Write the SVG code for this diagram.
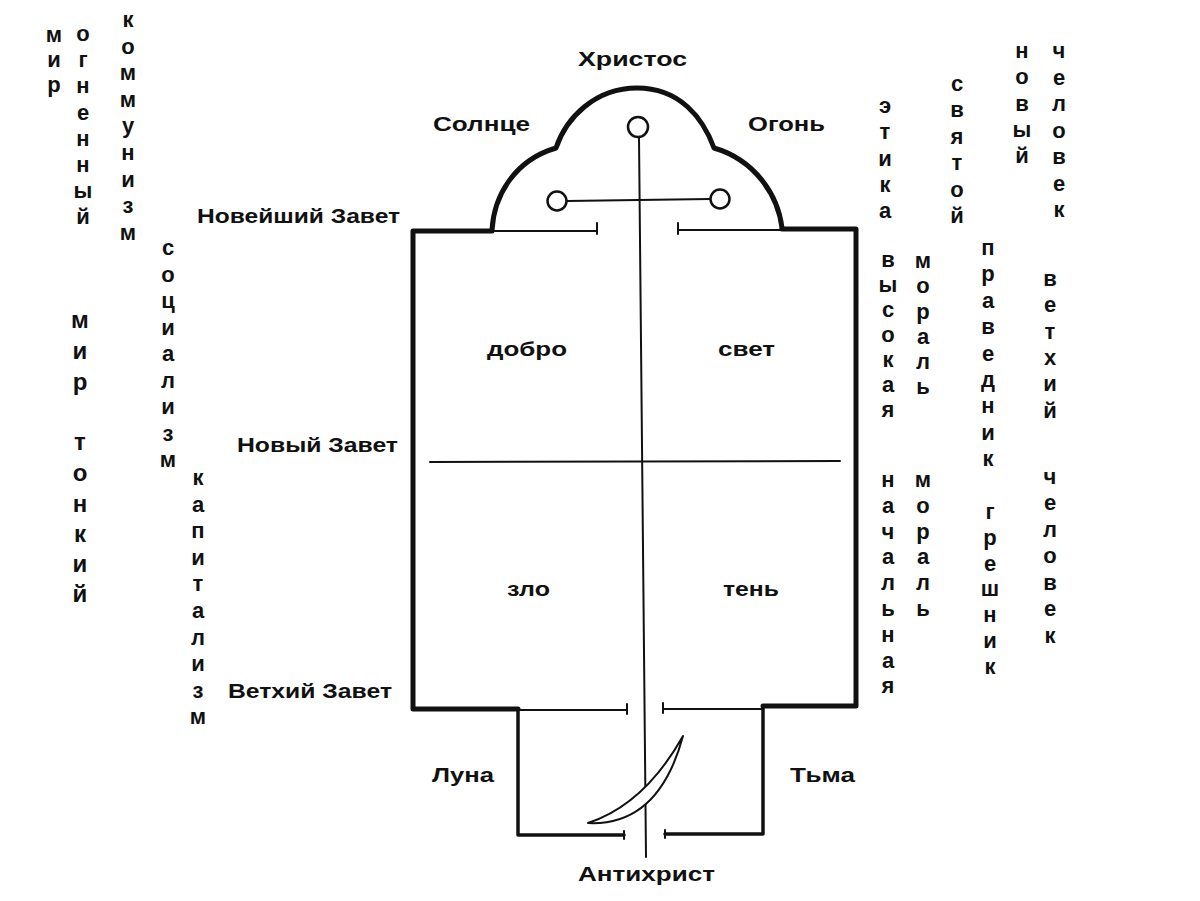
<svg xmlns="http://www.w3.org/2000/svg" width="1200" height="901" viewBox="0 0 1200 901">
<style>
text{font-family:"Liberation Sans",Arial,"Noto Sans",sans-serif;fill:#111;font-weight:bold}
.l{font-size:21px}
.v{font-size:22px;text-anchor:middle}
.vb{font-size:24px;text-anchor:middle}
.thick{fill:none;stroke:#111;stroke-width:5;stroke-linejoin:round;stroke-linecap:round}
.thin{fill:none;stroke:#111;stroke-width:2;stroke-linecap:round}
.mid{fill:none;stroke:#111;stroke-width:3.5;stroke-linejoin:round;stroke-linecap:round}
.circ{fill:#fff;stroke:#111;stroke-width:2.5}
</style>
<rect width="1200" height="901" fill="#fff"/>

<g id="temple">
<path class="thick" d="M492,230 C494,195 515,160 556,148 C566,118 595,88 637,88 C680,88 703,118 714,148 C755,160 778,195 782,228"/>
<path class="thick" d="M492,231 L413,231 L413,709 L518,709"/>
<path class="thick" d="M782,229 L856,229 L856,706 L763,706"/>
<path class="mid" d="M518,709 L518,835 L624,835"/>
<path class="mid" d="M763,706 L763,834 L665,834"/>
</g>

<g id="connectors">
<path class="thin" d="M492,231 L597,231 M597,223 L597,234"/>
<path class="thin" d="M678,230 L782,230 M678,223 L678,234"/>
<path class="thin" d="M518,710 L627,710 M627,704 L627,714"/>
<path class="thin" d="M663,709 L763,709 M663,703 L663,713"/>
<path class="thin" d="M624,831 L624,839 M665,830 L665,838"/>
<path class="thin" d="M430,462 L840,461"/>
<path class="thin" d="M639,137 L646,857"/>
<path class="thin" d="M567,201 L710,199"/>
</g>

<g id="circles">
<circle class="circ" cx="638" cy="127" r="10"/>
<circle class="circ" cx="557" cy="201" r="9.5"/>
<circle class="circ" cx="720" cy="199" r="9.5"/>
</g>

<g id="moon">
<path d="M588,823 Q658.5,826.5 683,736 Q644.5,804.5 588,823 Z" fill="#fff" stroke="#111" stroke-width="2" stroke-linejoin="round"/>
</g>

<g id="labels">
<text class="l" x="578" y="66" textLength="109" lengthAdjust="spacingAndGlyphs">Христос</text>
<text class="l" x="433" y="131" font-size="22" textLength="97" lengthAdjust="spacingAndGlyphs">Солнце</text>
<text class="l" x="748" y="131" font-size="22" textLength="77" lengthAdjust="spacingAndGlyphs">Огонь</text>
<text class="l" x="197" y="223" textLength="203" lengthAdjust="spacingAndGlyphs">Новейший Завет</text>
<text class="l" x="237" y="452" textLength="161" lengthAdjust="spacingAndGlyphs">Новый Завет</text>
<text class="l" x="228" y="698" textLength="164" lengthAdjust="spacingAndGlyphs">Ветхий Завет</text>
<text class="l" x="487" y="356" textLength="80" lengthAdjust="spacingAndGlyphs">добро</text>
<text class="l" x="718" y="356" textLength="57" lengthAdjust="spacingAndGlyphs">свет</text>
<text class="l" x="507" y="596" textLength="43" lengthAdjust="spacingAndGlyphs">зло</text>
<text class="l" x="723" y="596" textLength="56" lengthAdjust="spacingAndGlyphs">тень</text>
<text class="l" x="432" y="782" textLength="62" lengthAdjust="spacingAndGlyphs">Луна</text>
<text class="l" x="790" y="782" textLength="65" lengthAdjust="spacingAndGlyphs">Тьма</text>
<text class="l" x="578" y="881" textLength="137" lengthAdjust="spacingAndGlyphs">Антихрист</text>
</g>

<g id="left-columns">
<text class="v"><tspan x="54" y="42">м</tspan><tspan x="54" y="67">и</tspan><tspan x="54" y="92">р</tspan></text>
<text class="v"><tspan x="83" y="41">о</tspan><tspan x="83" y="67">г</tspan><tspan x="83" y="93">н</tspan><tspan x="83" y="120">е</tspan><tspan x="83" y="146">н</tspan><tspan x="83" y="172">н</tspan><tspan x="83" y="198">ы</tspan><tspan x="83" y="224">й</tspan></text>
<text class="v"><tspan x="128" y="27">к</tspan><tspan x="128" y="54">о</tspan><tspan x="128" y="80">м</tspan><tspan x="128" y="107">м</tspan><tspan x="128" y="133">у</tspan><tspan x="128" y="160">н</tspan><tspan x="128" y="187">и</tspan><tspan x="128" y="213">з</tspan><tspan x="128" y="240">м</tspan></text>
<text class="v"><tspan x="168" y="255">с</tspan><tspan x="168" y="282">о</tspan><tspan x="168" y="308">ц</tspan><tspan x="168" y="335">и</tspan><tspan x="168" y="361">а</tspan><tspan x="168" y="388">л</tspan><tspan x="168" y="414">и</tspan><tspan x="168" y="441">з</tspan><tspan x="168" y="467">м</tspan></text>
<text class="vb"><tspan x="80" y="328">м</tspan><tspan x="80" y="359">и</tspan><tspan x="80" y="390">р</tspan><tspan x="80" y="450">т</tspan><tspan x="80" y="481">о</tspan><tspan x="80" y="512">н</tspan><tspan x="80" y="542">к</tspan><tspan x="80" y="572">и</tspan><tspan x="80" y="602">й</tspan></text>
<text class="v"><tspan x="198" y="485">к</tspan><tspan x="198" y="512">а</tspan><tspan x="198" y="538">п</tspan><tspan x="198" y="565">и</tspan><tspan x="198" y="591">т</tspan><tspan x="198" y="618">а</tspan><tspan x="198" y="645">л</tspan><tspan x="198" y="671">и</tspan><tspan x="198" y="698">з</tspan><tspan x="198" y="724">м</tspan></text>
</g>

<g id="right-columns">
<text class="v"><tspan x="885" y="113">э</tspan><tspan x="885" y="139">т</tspan><tspan x="885" y="166">и</tspan><tspan x="885" y="192">к</tspan><tspan x="885" y="218">а</tspan></text>
<text class="v"><tspan x="957" y="91">с</tspan><tspan x="957" y="117">в</tspan><tspan x="957" y="144">я</tspan><tspan x="957" y="170">т</tspan><tspan x="957" y="197">о</tspan><tspan x="957" y="223">й</tspan></text>
<text class="v"><tspan x="1022" y="58">н</tspan><tspan x="1022" y="84">о</tspan><tspan x="1022" y="111">в</tspan><tspan x="1022" y="137">ы</tspan><tspan x="1022" y="163">й</tspan></text>
<text class="v"><tspan x="1059" y="58">ч</tspan><tspan x="1059" y="85">е</tspan><tspan x="1059" y="111">л</tspan><tspan x="1059" y="138">о</tspan><tspan x="1059" y="164">в</tspan><tspan x="1059" y="191">е</tspan><tspan x="1059" y="217">к</tspan></text>
<text class="v"><tspan x="888" y="267">в</tspan><tspan x="888" y="292">ы</tspan><tspan x="888" y="317">с</tspan><tspan x="888" y="342">о</tspan><tspan x="888" y="367">к</tspan><tspan x="888" y="392">а</tspan><tspan x="888" y="417">я</tspan></text>
<text class="v"><tspan x="923" y="268">м</tspan><tspan x="923" y="293">о</tspan><tspan x="923" y="319">р</tspan><tspan x="923" y="344">а</tspan><tspan x="923" y="369">л</tspan><tspan x="923" y="394">ь</tspan></text>
<text class="v"><tspan x="888" y="487">н</tspan><tspan x="888" y="513">а</tspan><tspan x="888" y="539">ч</tspan><tspan x="888" y="564">а</tspan><tspan x="888" y="590">л</tspan><tspan x="888" y="616">ь</tspan><tspan x="888" y="642">н</tspan><tspan x="888" y="668">а</tspan><tspan x="888" y="693">я</tspan></text>
<text class="v"><tspan x="923" y="487">м</tspan><tspan x="923" y="513">о</tspan><tspan x="923" y="539">р</tspan><tspan x="923" y="564">а</tspan><tspan x="923" y="590">л</tspan><tspan x="923" y="616">ь</tspan></text>
<text class="v"><tspan x="988" y="255">п</tspan><tspan x="988" y="281">р</tspan><tspan x="988" y="308">а</tspan><tspan x="988" y="334">в</tspan><tspan x="988" y="361">е</tspan><tspan x="988" y="387">д</tspan><tspan x="988" y="413">н</tspan><tspan x="988" y="440">и</tspan><tspan x="988" y="466">к</tspan></text>
<text class="v"><tspan x="990" y="519">г</tspan><tspan x="990" y="545">р</tspan><tspan x="990" y="571">е</tspan><tspan x="990" y="596">ш</tspan><tspan x="990" y="622">н</tspan><tspan x="990" y="648">и</tspan><tspan x="990" y="674">к</tspan></text>
<text class="v"><tspan x="1050" y="286">в</tspan><tspan x="1050" y="312">е</tspan><tspan x="1050" y="339">т</tspan><tspan x="1050" y="365">х</tspan><tspan x="1050" y="391">и</tspan><tspan x="1050" y="418">й</tspan></text>
<text class="v"><tspan x="1050" y="484">ч</tspan><tspan x="1050" y="510">е</tspan><tspan x="1050" y="537">л</tspan><tspan x="1050" y="563">о</tspan><tspan x="1050" y="590">в</tspan><tspan x="1050" y="616">е</tspan><tspan x="1050" y="643">к</tspan></text>
</g>
</svg>
